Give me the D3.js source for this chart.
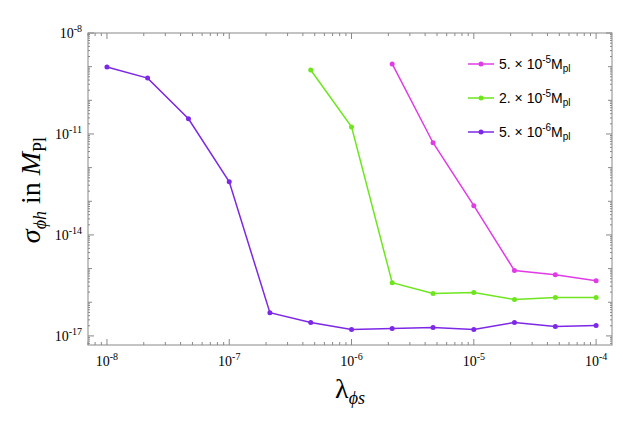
<!DOCTYPE html><html><head><meta charset="utf-8"><script src="https://cdn.jsdelivr.net/npm/d3@7"></script>
<style>body{margin:0;background:#fff}</style></head><body><svg id="c" width="623" height="422"></svg>
<script>
const xs=[1e-8,2.15e-8,4.64e-8,1e-7,2.15e-7,4.64e-7,1e-6,2.15e-6,4.64e-6,1e-5,2.15e-5,4.64e-5,1e-4];
const purple=[-9.01,-9.34,-10.55,-12.42,-16.31,-16.6,-16.81,-16.78,-16.75,-16.81,-16.6,-16.72,-16.69];
const greenX=xs.slice(5);
const green=[-9.1,-10.79,-15.42,-15.74,-15.71,-15.92,-15.86,-15.86];
const magX=xs.slice(7);
const mag=[-8.92,-11.26,-13.13,-15.06,-15.18,-15.36];
const series=[{x:magX,y:mag,c:"#e03ce6",t:"5.",e:"-5"},{x:greenX,y:green,c:"#6ee61e",t:"2.",e:"-5"},{x:xs,y:purple,c:"#7d28e6",t:"5.",e:"-6"}];
const svg=d3.select("#c");
const L=88,R=612,T=33,B=345;
const x=d3.scaleLog().domain([10**-8.155,10**-3.87]).range([L,R]);
const y=d3.scaleLog().domain([1e-8,10**-17.27]).range([T,B]);
svg.append("rect").attr("x",L).attr("y",T).attr("width",R-L).attr("height",B-T).attr("fill","none").attr("stroke","#888");
const g=svg.append("g").attr("font-family","Liberation Serif, serif").attr("font-size",14);
for(let e=-9;e<=-3;e++)for(let m=1;m<10;m++){const v=m*10**e;if(v<x.domain()[0]||v>x.domain()[1])continue;const len=m==1?6:3;const px=x(v);
g.append("line").attr("x1",px).attr("x2",px).attr("y1",B).attr("y2",B-len).attr("stroke","#888");
g.append("line").attr("x1",px).attr("x2",px).attr("y1",T).attr("y2",T+len).attr("stroke","#888");
if(m==1){const t=g.append("text").attr("x",px).attr("y",B+21).attr("text-anchor","middle");t.append("tspan").text("10");t.append("tspan").attr("dy",-6).attr("font-size",10).text(e);}}
for(let e=-18;e<=-8;e++)for(let m=1;m<10;m++){const v=m*10**e;if(v>1.001e-8||v<y.domain()[1])continue;const major=m==1&&(e+8)%3==0;const len=major?6:(m==1?4:2);const py=y(v);
g.append("line").attr("x1",L).attr("x2",L+len).attr("y1",py).attr("y2",py).attr("stroke","#888");
g.append("line").attr("x1",R).attr("x2",R-len).attr("y1",py).attr("y2",py).attr("stroke","#888");
if(major){const t=g.append("text").attr("x",L-6).attr("y",py+5).attr("text-anchor","end");t.append("tspan").text("10");t.append("tspan").attr("dy",-6).attr("font-size",10).text(e);}}
for(const s of series){const pts=s.x.map((v,i)=>[x(v),y(10**s.y[i])]);
svg.append("path").attr("d",d3.line()(pts)).attr("fill","none").attr("stroke",s.c).attr("stroke-width",1.5);
svg.selectAll(null).data(pts).enter().append("circle").attr("cx",d=>d[0]).attr("cy",d=>d[1]).attr("r",2.5).attr("fill",s.c);}
series.forEach((s,i)=>{const yy=64+i*34;svg.append("line").attr("x1",468).attr("x2",494).attr("y1",yy).attr("y2",yy).attr("stroke",s.c).attr("stroke-width",1.5);
svg.append("circle").attr("cx",481).attr("cy",yy).attr("r",2.5).attr("fill",s.c);
const t=svg.append("text").attr("x",499).attr("y",yy+5).attr("font-family","Liberation Sans, sans-serif").attr("font-size",14);
t.append("tspan").text(s.t+" \u00d7 10");t.append("tspan").attr("dy",-6).attr("font-size",10).text(s.e);t.append("tspan").attr("dy",6).text("M");t.append("tspan").attr("dy",3).attr("font-size",10).text("pl");});
const xt=svg.append("text").attr("x",350).attr("y",398).attr("text-anchor","middle").attr("font-family","Liberation Serif, serif").attr("font-size",28);
xt.append("tspan").text("λ");xt.append("tspan").attr("dy",6).attr("font-size",18).attr("font-style","italic").text("ϕs");
const yt=svg.append("text").attr("transform","translate(40,190) rotate(-90)").attr("text-anchor","middle").attr("font-family","Liberation Serif, serif").attr("font-size",28);
yt.append("tspan").attr("font-style","italic").text("σ");yt.append("tspan").attr("dy",6).attr("font-size",18).attr("font-style","italic").text("ϕh");yt.append("tspan").attr("dy",-6).text(" in ");yt.append("tspan").attr("font-style","italic").text("M");yt.append("tspan").attr("dy",6).attr("font-size",18).text("Pl");
</script></body></html>
